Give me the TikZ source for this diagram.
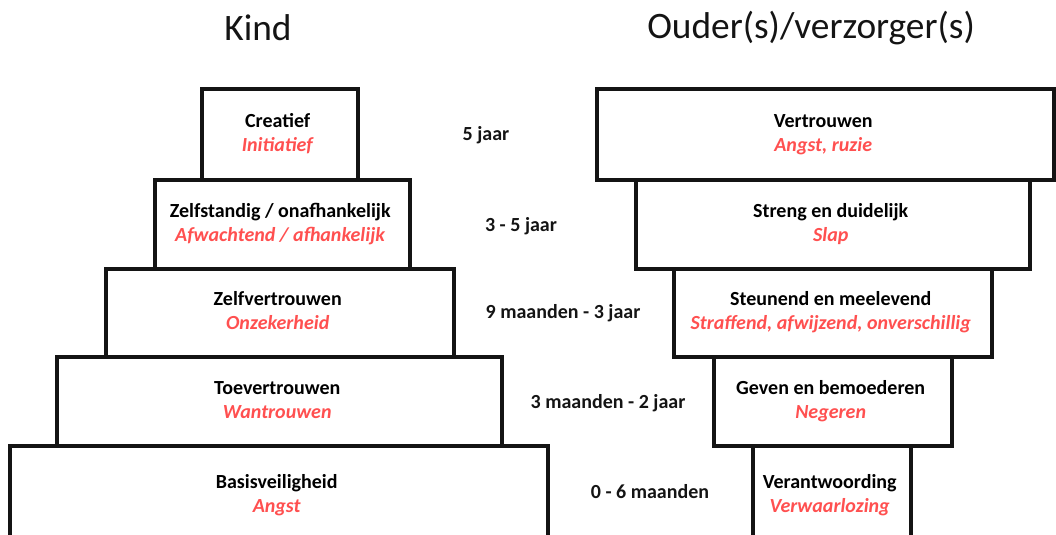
\documentclass[tikz,border=0pt]{standalone}
\usepackage{fontspec}
\setmainfont{Carlito}
\usepackage{tikz}
\usetikzlibrary{positioning}
\definecolor{negred}{RGB}{255,80,80}
\definecolor{boxline}{RGB}{20,20,20}

\begin{document}
\begin{tikzpicture}[x=0.75pt, y=-0.75pt,
  stagebox/.style={draw=boxline, rectangle, line width=2.4pt, fill=white, inner sep=0pt,
    font=\fontsize{15}{18}\selectfont, align=center},
  agelabel/.style={font=\fontsize{15}{18}\selectfont\bfseries, text=boxline},
  heading/.style={font=\fontsize{28}{32}\selectfont, text=boxline}]
\useasboundingbox (0,0) rectangle (1056,535);

% Headings
\node[heading] (kind) at (258,28) {Kind};
\node[heading] (ouder) at (811,28) {Ouder(s)/verzorger(s)};

% Child pyramid
\node[stagebox, minimum width=117pt, minimum height=68.25pt] (creatief) at (280,134.5) {
\begin{tabular}{c}
\textbf{Creatief} \\
\textcolor{negred}{\textbf{\textit{Initiatief}}}
\end{tabular}
};
\node[stagebox, minimum width=191.25pt, minimum height=66.75pt] (zelfstandig) at (282.5,224.5) {
\begin{tabular}{c}
\textbf{Zelfstandig / onafhankelijk} \\
\textcolor{negred}{\textbf{\textit{Afwachtend / afhankelijk}}}
\end{tabular}
};
\node[stagebox, minimum width=261pt, minimum height=66pt] (zelfvertrouwen) at (280,313) {
\begin{tabular}{c}
\textbf{Zelfvertrouwen} \\
\textcolor{negred}{\textbf{\textit{Onzekerheid}}}
\end{tabular}
};
\node[stagebox, minimum width=333.75pt, minimum height=66.75pt] (toevertrouwen) at (279.5,401.5) {
\begin{tabular}{c}
\textbf{Toevertrouwen} \\
\textcolor{negred}{\textbf{\textit{Wantrouwen}}}
\end{tabular}
};
\node[stagebox, minimum width=403.5pt, minimum height=75pt] (basis) at (279,496) {
\begin{tabular}{c}
\textbf{Basisveiligheid} \\
\textcolor{negred}{\textbf{\textit{Angst}}}
\end{tabular}
};

% Age labels
\node[agelabel] (age5) at (486,135) {5 jaar};
\node[agelabel] (age35) at (521,226) {3 - 5 jaar};
\node[agelabel] (age93) at (563,313) {9 maanden - 3 jaar};
\node[agelabel] (age32) at (608,403) {3 maanden - 2 jaar};
\node[agelabel] (age06) at (650,492) {0 - 6 maanden};

% Parent pyramid
\node[stagebox, minimum width=342.75pt, minimum height=68.25pt] (vertrouwen) at (825.5,134.5) {
\begin{tabular}{c}
\textbf{Vertrouwen} \\
\textcolor{negred}{\textbf{\textit{Angst, ruzie}}}
\end{tabular}
};
\node[stagebox, minimum width=295.5pt, minimum height=66.75pt] (streng) at (833,224.5) {
\begin{tabular}{c}
\textbf{Streng en duidelijk} \\
\textcolor{negred}{\textbf{\textit{Slap}}}
\end{tabular}
};
\node[stagebox, minimum width=238.5pt, minimum height=66pt] (steunend) at (833,313) {
\begin{tabular}{c}
\textbf{Steunend en meelevend} \\
\textcolor{negred}{\textbf{\textit{Straffend, afwijzend, onverschillig}}}
\end{tabular}
};
\node[stagebox, minimum width=178.5pt, minimum height=66.75pt] (geven) at (833,401.5) {
\begin{tabular}{c}
\textbf{Geven en bemoederen} \\
\textcolor{negred}{\textbf{\textit{Negeren}}}
\end{tabular}
};
\node[stagebox, minimum width=118.5pt, minimum height=75pt] (verantwoording) at (832,496) {
\begin{tabular}{c}
\textbf{Verantwoording} \\
\textcolor{negred}{\textbf{\textit{Verwaarlozing}}}
\end{tabular}
};
\end{tikzpicture}
\end{document}
